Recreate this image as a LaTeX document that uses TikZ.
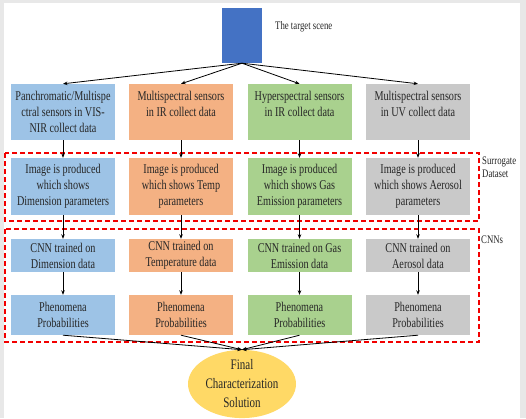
\documentclass[tikz,border=0pt]{standalone}
\usepackage{fontspec}
\setmainfont{Liberation Serif}[FakeStretch=0.76]
\usetikzlibrary{arrows.meta,shapes.geometric}
\definecolor{cblue}{HTML}{9DC3E6}
\definecolor{corange}{HTML}{F4B183}
\definecolor{cgreen}{HTML}{A9D18E}
\definecolor{cgrey}{HTML}{C9C9C9}
\definecolor{cscene}{HTML}{4472C4}
\definecolor{cfinal}{HTML}{FFD966}
\definecolor{ctext}{HTML}{262626}

\begin{document}
\begin{tikzpicture}[x=1pt,y=-1pt, box/.style={align=center,inner sep=0pt,minimum width=104pt,text=ctext,font=\fontsize{13.4}{16}\selectfont}, flow/.style={-{Stealth[length=4.5pt,width=3.5pt]},line width=0.8pt}, group/.style={draw=red!95!black,line width=1.4pt,dash pattern=on 5pt off 3pt}, side/.style={inner sep=0pt,align=left,text=ctext,font=\fontsize{11.5}{12.5}\selectfont}]
\fill[black!9] (0,0) rectangle (526,418);
\fill[white] (4,3) rectangle (520,418);
\useasboundingbox (0,0) rectangle (526,418);
% the scene
\node[fill=cscene, minimum width=40pt, minimum height=55pt, inner sep=0pt] (tgt) at (242,35.5) {};
\node[side, anchor=west] (tgtlab) at (275,27) {The target scene};
% sensors
\node[box, fill=cblue, minimum height=56pt] (s1) at (63,112) {Panchromatic/Multispe\\ctral sensors in VIS-\\NIR collect data};
\node[box, fill=corange, minimum height=56pt] (s2) at (181,112) {Multispectral sensors\\in IR collect data\\~};
\node[box, fill=cgreen, minimum height=56pt] (s3) at (299.5,112) {Hyperspectral sensors\\in IR collect data\\~};
\node[box, fill=cgrey, minimum height=56pt] (s4) at (418,112) {Multispectral sensors\\in UV collect data\\~};
% surrogate images
\node[box, fill=cblue, minimum height=57pt] (img1) at (63,186.5) {Image is produced\\which shows\\Dimension parameters};
\node[box, fill=corange, minimum height=57pt] (img2) at (181,186.5) {Image is produced\\which shows Temp\\parameters};
\node[box, fill=cgreen, minimum height=57pt] (img3) at (299.5,186.5) {Image is produced\\which shows Gas\\Emission parameters};
\node[box, fill=cgrey, minimum height=57pt] (img4) at (418,186.5) {Image is produced\\which shows Aerosol\\parameters};
% cnns
\node[box, fill=cblue, minimum height=33pt] (cnn1) at (63,255.5) {CNN trained on\\Dimension data};
\node[box, fill=corange, minimum height=33pt] (cnn2) at (181,255.5) {CNN trained on\\Temperature data};
\node[box, fill=cgreen, minimum height=33pt] (cnn3) at (299.5,255.5) {CNN trained on Gas\\Emission data};
\node[box, fill=cgrey, minimum height=33pt] (cnn4) at (418,255.5) {CNN trained on\\Aerosol data};
% probabilities
\node[box, fill=cblue, minimum height=40pt] (ph1) at (63,315) {Phenomena\\Probabilities};
\node[box, fill=corange, minimum height=40pt] (ph2) at (181,315) {Phenomena\\Probabilities};
\node[box, fill=cgreen, minimum height=40pt] (ph3) at (299.5,315) {Phenomena\\Probabilities};
\node[box, fill=cgrey, minimum height=40pt] (ph4) at (418,315) {Phenomena\\Probabilities};
\node[ellipse, fill=cfinal, minimum width=108pt, minimum height=66pt, inner sep=0pt, align=center, text=ctext, font=\fontsize{14.5}{19}\selectfont] (fin) at (242,384) {Final\\Characterization\\Solution};
% groups
\draw[group] (5,153) rectangle (479,221);
\draw[group] (5,229) rectangle (479,342);
\node[side, anchor=north west] (surr) at (482,157) {Surrogate\\Dataset};
\node[side, anchor=west] (cnnlab) at (481,240) {CNNs};
% connectors
\foreach \i in {1,...,4} {
  \draw[flow] (tgt.south) -- (s\i.north);
  \draw[flow] (s\i) -- (img\i);
  \draw[flow] (img\i) -- (cnn\i);
  \draw[flow] (cnn\i) -- (ph\i);
  \draw[flow] (ph\i.south) -- (fin.north);
}
\end{tikzpicture}
\end{document}
